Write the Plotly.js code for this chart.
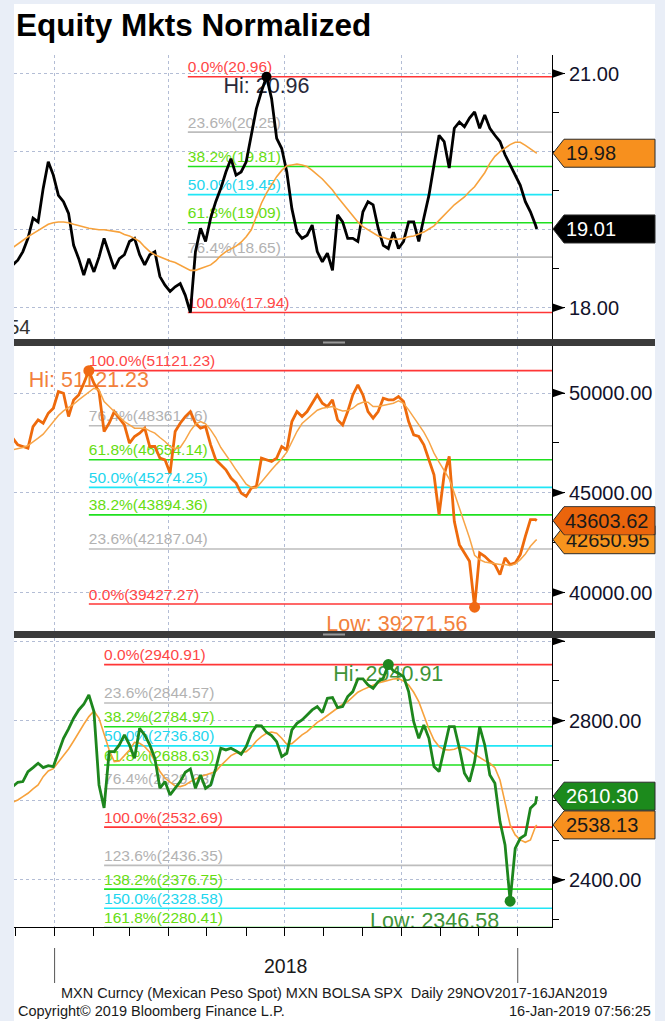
<!DOCTYPE html>
<html>
<head>
<meta charset="utf-8">
<script src="https://cdn.plot.ly/plotly-3.0.1.min.js"></script>
<style>
html,body{margin:0;padding:0;background:#e9eef7;}
#chart{width:665px;height:1021px;}
</style>
</head>
<body>
<div id="chart"></div>
<script>
// ---------- data ----------
const dates = [
'2017-11-29','2017-12-03','2017-12-07','2017-12-11','2017-12-15','2017-12-19','2017-12-23','2017-12-27','2017-12-31',
'2018-01-04','2018-01-08','2018-01-12','2018-01-16','2018-01-20','2018-01-24','2018-01-28',
'2018-02-01','2018-02-05','2018-02-09','2018-02-13','2018-02-17','2018-02-21','2018-02-25',
'2018-03-01','2018-03-05','2018-03-09','2018-03-13','2018-03-17','2018-03-21','2018-03-25','2018-03-29',
'2018-04-02','2018-04-06','2018-04-10','2018-04-14','2018-04-18','2018-04-22','2018-04-26','2018-04-30',
'2018-05-04','2018-05-08','2018-05-12','2018-05-16','2018-05-20','2018-05-24','2018-05-28',
'2018-06-01','2018-06-05','2018-06-09','2018-06-13','2018-06-17','2018-06-21','2018-06-25','2018-06-29',
'2018-07-03','2018-07-07','2018-07-11','2018-07-15','2018-07-19','2018-07-23','2018-07-27','2018-07-31',
'2018-08-04','2018-08-08','2018-08-12','2018-08-16','2018-08-20','2018-08-24','2018-08-28',
'2018-09-01','2018-09-05','2018-09-09','2018-09-13','2018-09-17','2018-09-21','2018-09-25','2018-09-29',
'2018-10-03','2018-10-07','2018-10-11','2018-10-15','2018-10-19','2018-10-23','2018-10-27','2018-10-31',
'2018-11-04','2018-11-08','2018-11-12','2018-11-16','2018-11-20','2018-11-24','2018-11-28',
'2018-12-02','2018-12-06','2018-12-10','2018-12-14','2018-12-18','2018-12-22','2018-12-26','2018-12-30',
'2019-01-03','2019-01-07','2019-01-11','2019-01-15','2019-01-16'
];

const mxn = [
18.55,18.61,18.72,18.89,19.15,19.10,19.53,19.87,19.70,19.44,
19.36,19.21,18.80,18.63,18.42,18.63,18.46,18.65,18.89,18.68,
18.50,18.63,18.68,18.85,18.89,18.68,18.55,18.68,18.72,18.40,
18.29,18.21,18.27,18.31,18.16,17.94,18.72,19.02,18.85,19.15,
19.36,19.53,19.74,19.91,19.70,19.74,19.87,20.21,20.55,20.77,
20.96,20.68,20.17,20.04,19.74,19.27,18.97,18.89,18.93,19.06,
18.72,18.59,18.70,18.48,19.19,19.10,18.89,18.89,18.85,19.23,
19.36,19.32,19.02,18.80,18.76,18.97,18.76,18.85,19.10,19.10,
18.85,19.15,19.44,19.83,20.21,20.13,19.79,20.30,20.38,20.32,
20.43,20.51,20.30,20.47,20.30,20.21,20.13,19.96,19.83,19.70,
19.57,19.36,19.23,19.06,19.01
];
const mxnMA = [
18.77,18.82,18.86,18.91,18.95,18.99,19.03,19.07,19.09,19.10,
19.10,19.09,19.07,19.05,19.03,19.02,19.01,19.00,19.00,18.99,
18.98,18.97,18.94,18.92,18.89,18.85,18.78,18.72,18.68,18.65,
18.62,18.60,18.58,18.55,18.51,18.48,18.48,18.50,18.52,18.55,
18.60,18.67,18.72,18.75,18.79,18.84,18.91,19.00,19.17,19.34,
19.47,19.57,19.68,19.76,19.82,19.83,19.84,19.83,19.81,19.76,
19.71,19.65,19.58,19.51,19.42,19.34,19.25,19.18,19.10,19.04,
19.00,18.95,18.92,18.90,18.88,18.88,18.88,18.89,18.91,18.92,
18.94,18.97,19.01,19.05,19.12,19.19,19.25,19.32,19.37,19.42,
19.49,19.55,19.64,19.73,19.85,19.94,20.00,20.05,20.09,20.12,
20.12,20.08,20.03,19.99,19.98
];

const bolsa = [
47738,47404,47321,47238,48321,48654,48488,48988,49238,50071,
49988,48821,49654,49904,50488,51121.23,50488,50071,48071,48488,
49071,48738,48404,47488,47821,47988,48238,47321,47321,46738,
46654,45988,48071,48488,48821,49071,48488,48238,48321,47404,
46654,46404,46154,45738,45488,44988,44821,45238,45321,46738,
46654,46571,46738,47321,47154,48571,49071,48821,49071,49488,
49904,49488,49321,49654,48654,48404,49071,49904,50404,49904,
49071,48738,49071,49738,49654,49654,49821,49571,48571,47904,
47821,47404,46654,45904,43904,45904,46821,43571,42404,41988,
41571,39271.56,41988,41821,41571,41404,40904,41738,41404,41488,
41904,42821,43654,43654,43603.62
];
const bolsaMA = [
47154,47204,47271,47371,47538,47738,47938,48238,48538,48871,
49104,49271,49438,49654,49854,50071,50238,50154,49571,49321,
49071,48821,48571,48404,48238,48238,48238,48104,47988,47771,
47571,47321,47204,47271,47654,48104,48438,48571,48454,48154,
47771,47271,46871,46538,46154,45771,45438,45271,45238,45538,
45871,46154,46438,46704,47038,47538,48071,48471,48704,48954,
49138,49238,49271,49321,49188,49104,49121,49238,49438,49538,
49538,49321,49321,49371,49438,49488,49604,49488,49154,48771,
48454,48038,47571,46988,46538,46154,45704,44988,44238,43571,
42738,41871,41654,41538,41488,41438,41404,41404,41354,41438,
41654,41938,42321,42604,42650.95
];

const spx = [
2634.4,2645.3,2647.0,2672.1,2682.1,2693.0,2682.1,2687.2,2684.6,2720.6,
2755.8,2779.3,2806.1,2827.0,2841.2,2864.7,2822.8,2638.6,2581.0,2722.3,
2722.3,2739.1,2764.2,2739.1,2705.6,2780.9,2764.2,2739.1,2705.6,2630.2,
2647.0,2613.5,2630.2,2647.0,2670.4,2678.8,2630.2,2663.7,2630.2,2638.6,
2680.4,2730.7,2726.5,2730.7,2724.0,2715.6,2734.9,2768.4,2787.6,2786.8,
2770.9,2762.5,2747.4,2709.8,2718.1,2776.8,2793.5,2801.9,2814.5,2827.0,
2835.4,2820.3,2856.3,2858.0,2832.9,2835.4,2860.5,2873.1,2904.9,2904.9,
2889.8,2881.5,2898.2,2906.6,2940.91,2925.0,2919.1,2910.8,2873.1,2797.7,
2755.8,2789.3,2755.8,2684.6,2672.1,2730.7,2785.1,2785.1,2730.7,2667.9,
2647.0,2697.2,2785.1,2739.1,2663.7,2642.8,2546.5,2487.8,2346.58,2479.4,
2504.6,2513.0,2580.0,2592.5,2610.30
];
const spxMA = [
2595.0,2600.9,2609.3,2617.6,2628.5,2638.6,2659.5,2673.8,2679.6,2695.5,
2712.3,2729.0,2749.1,2770.9,2791.0,2810.3,2824.5,2806.1,2764.2,2726.5,
2697.2,2698.9,2712.3,2726.5,2745.8,2743.2,2734.9,2720.6,2698.9,2672.1,
2655.3,2645.3,2636.1,2634.4,2638.6,2647.0,2653.6,2659.5,2663.7,2667.9,
2672.1,2687.2,2698.9,2712.3,2719.0,2720.6,2722.3,2733.2,2749.1,2760.0,
2768.4,2771.7,2768.4,2755.8,2740.8,2742.4,2754.2,2764.2,2772.6,2785.1,
2796.0,2803.6,2813.6,2822.8,2831.2,2841.2,2847.9,2860.5,2871.4,2878.1,
2884.0,2889.8,2894.9,2898.2,2901.5,2904.9,2905.7,2899.9,2889.8,2871.4,
2847.9,2814.5,2779.3,2751.6,2734.9,2727.3,2726.5,2728.2,2734.0,2732.4,
2725.7,2715.6,2707.3,2699.7,2693.0,2682.1,2651.1,2592.5,2538.1,2513.0,
2500.4,2494.5,2500.4,2533.9,2538.13
];

// Fibonacci retracement levels
const fib1Pct = ['0.0%','23.6%','38.2%','50.0%','61.8%','76.4%','100.0%'];
const fib1Val = [20.96,20.25,19.81,19.45,19.09,18.65,17.94];
const fib2Pct = ['100.0%','76.4%','61.8%','50.0%','38.2%','23.6%','0.0%'];
const fib2Val = [51121.23,48361.46,46654.14,45274.25,43894.36,42187.04,39427.27];
const fib3Pct = ['0.0%','23.6%','38.2%','50.0%','61.8%','76.4%','100.0%','123.6%','138.2%','150.0%','161.8%'];
const fib3Val = [2940.91,2844.57,2784.97,2736.80,2688.63,2629.03,2532.69,2436.35,2376.75,2328.58,2280.41];
const fibStart = ['2018-04-16','2018-01-28','2018-02-09'];

// Hi / Low points
const hi1 = {d:'2018-06-17', v:20.96};
const hi2 = {d:'2018-01-28', v:51121.23};
const lo2 = {d:'2018-11-28', v:39271.56};
const hi3 = {d:'2018-09-21', v:2940.91};
const lo3 = {d:'2018-12-26', v:2346.58};

// axis ticks
const y1Ticks = [18,19,20,21];      const y1Text = ['18.00','','','21.00'];   const y1Minor = [18.5,19.5,20.5];
const y2Ticks = [40000,45000,50000]; const y2Text = ['40000.00','45000.00','50000.00']; const y2Minor = [42500,47500];
const y3Ticks = [2400,2600,2800,3000]; const y3Text = ['2400.00','','2800.00','']; const y3Minor = [2300,2500,2700,2900];
const quarterTicks = ['2018-01-01','2018-04-01','2018-07-01','2018-10-01','2019-01-01'];
const monthTicks = ['2017-12-01','2018-01-01','2018-02-01','2018-03-01','2018-04-01','2018-05-01','2018-06-01',
  '2018-07-01','2018-08-01','2018-09-01','2018-10-01','2018-11-01','2018-12-01','2019-01-01'];
const arrowTicks = {y:[18,21], y2:[40000,45000,50000], y3:[2400,2800,3000]};

// ---------- styling ----------
const FONT = "'Liberation Sans', Arial, sans-serif";
const X_RANGE = ['2017-11-30','2019-01-28'];
const GRID = '#b3bdd5';

function fibColor(p){
  if(p==='0.0%'||p==='100.0%') return {line:'#ff3636', text:'#ff4646'};
  if(p==='23.6%'||p==='76.4%'||p==='123.6%') return {line:'#bdbdbd', text:'#b2b2b2'};
  if(p==='50.0%'||p==='150.0%') return {line:'#20e6f6', text:'#22d6ee'};
  return {line:'#1fe01f', text:'#66dd11'};
}
function fibShapes(yref, start, pcts, vals){
  return pcts.map((p,i)=>({
    type:'line', xref:'x', yref:yref, x0:start, x1:X_RANGE[1], y0:vals[i], y1:vals[i],
    layer:'between', line:{color:fibColor(p).line, width:1.6},
    label:{text:p+'('+vals[i].toFixed(2)+')', textposition:'start', xanchor:'left', yanchor:'bottom',
      padding:3, font:{family:FONT, size:15.5, color:fibColor(p).text}}
  }));
}
function arrowShape(yref, v){
  return {type:'path', xref:'paper', yref:yref, xsizemode:'pixel', ysizemode:'pixel', xanchor:1, yanchor:v,
    path:'M0,-4.5 L13,0 L0,4.5 Z', fillcolor:'#000', line:{width:0}, layer:'above'};
}
function badgeShape(yref, v, fill){
  return {type:'path', xref:'paper', yref:yref, xsizemode:'pixel', ysizemode:'pixel', xanchor:1, yanchor:v,
    path:'M1,0 L12,14 L103,14 L103,-14 L12,-14 Z', fillcolor:fill, line:{color:'#2a2a2a', width:1}, layer:'above'};
}
function badgeText(yref, v, color, bg){
  const a = {xref:'paper', x:1, xanchor:'left', xshift:12, yref:yref, y:v, yanchor:'middle',
    text:v.toFixed(2), showarrow:false, align:'left', font:{family:FONT, size:20, color:color}};
  if(bg){ a.bgcolor = bg; a.width = 88; a.height = 26; a.borderpad = 0; }
  return a;
}
function last(a){ return a[a.length-1]; }

// paper helpers (plot area spans y 55..927 px, x 14..552 px)
const PT = 55, PB = 927, PH = PB-PT, PL = 14, PW = 538;
const py = p => (PB - p)/PH;
const px = p => (p - PL)/PW;

const yBase = {
  side:'right', anchor:'x', showline:true, linecolor:'#000', linewidth:1,
  ticks:'outside', ticklen:12, tickcolor:'#000', tickwidth:1,
  tickfont:{family:FONT, size:20, color:'#12122a'},
  showgrid:true, gridcolor:GRID, griddash:'3px,3px', gridwidth:1, zeroline:false, fixedrange:true
};

// ---------- traces ----------
const traces = [];
// Panel 1
traces.push({x:[hi1.d], y:[hi1.v], yaxis:'y', mode:'text', text:['Hi: '+hi1.v.toFixed(2)], textposition:'bottom center',
  textfont:{family:FONT, size:21.5, color:'#2a2a3a'}, hoverinfo:'skip'});
traces.push({x:dates, y:mxn, yaxis:'y', mode:'lines', line:{color:'#000', width:2.8}, hoverinfo:'skip'});
traces.push({x:dates, y:mxnMA, yaxis:'y', mode:'lines', line:{color:'#f7a23c', width:1.6}, hoverinfo:'skip'});
traces.push({x:[hi1.d], y:[hi1.v], yaxis:'y', mode:'markers', marker:{color:'#000', size:10}, hoverinfo:'skip'});
traces.push({x:['2017-12-13'], y:[17.73], yaxis:'y', mode:'text', text:['54'], textposition:'middle left',
  textfont:{family:FONT, size:20, color:'#333'}, hoverinfo:'skip'});
// Panel 2
traces.push({x:[hi2.d], y:[hi2.v], yaxis:'y2', mode:'text',
  text:['Hi: '+hi2.v.toFixed(2)], textposition:'bottom center',
  textfont:{family:FONT, size:21.5, color:'#f2813c'}, hoverinfo:'skip'});
traces.push({x:[lo2.d], y:[lo2.v], yaxis:'y2', mode:'markers+text', marker:{size:10, opacity:0},
  text:['Low: '+lo2.v.toFixed(2)], textposition:'bottom left',
  textfont:{family:FONT, size:21.5, color:'#f2813c'}, hoverinfo:'skip'});
traces.push({x:dates, y:bolsa, yaxis:'y2', mode:'lines', line:{color:'#ee6a0c', width:2.8}, hoverinfo:'skip'});
traces.push({x:dates, y:bolsaMA, yaxis:'y2', mode:'lines', line:{color:'#f7a548', width:1.5}, hoverinfo:'skip'});
traces.push({x:[hi2.d, lo2.d], y:[hi2.v, lo2.v], yaxis:'y2', mode:'markers', marker:{color:'#f06a14', size:11}, hoverinfo:'skip'});
// Panel 3
traces.push({x:[hi3.d], y:[hi3.v], yaxis:'y3', mode:'text',
  text:['Hi: '+hi3.v.toFixed(2)], textposition:'bottom center',
  textfont:{family:FONT, size:21.5, color:'#3f9438'}, hoverinfo:'skip'});
traces.push({x:[lo3.d], y:[lo3.v], yaxis:'y3', mode:'markers+text', marker:{size:16, opacity:0},
  text:['Low: '+lo3.v.toFixed(2)], textposition:'bottom left',
  textfont:{family:FONT, size:21.5, color:'#3f9438'}, hoverinfo:'skip'});
traces.push({x:dates, y:spxMA, yaxis:'y3', mode:'lines', line:{color:'#f7a23c', width:1.6}, hoverinfo:'skip'});
traces.push({x:dates, y:spx, yaxis:'y3', mode:'lines', line:{color:'#1d861d', width:2.8}, hoverinfo:'skip'});
traces.push({x:[hi3.d, lo3.d], y:[hi3.v, lo3.v], yaxis:'y3', mode:'markers', marker:{color:'#1f861f', size:11}, hoverinfo:'skip'});

// ---------- shapes ----------
let shapes = [];
shapes.push({type:'rect', xref:'paper', yref:'paper', x0:0, x1:px(655), y0:py(1021), y1:py(4),
  fillcolor:'#ffffff', line:{width:0}, layer:'below'});
shapes = shapes.concat(fibShapes('y', fibStart[0], fib1Pct, fib1Val));
shapes = shapes.concat(fibShapes('y2', fibStart[1], fib2Pct, fib2Val));
shapes = shapes.concat(fibShapes('y3', fibStart[2], fib3Pct, fib3Val));
arrowTicks.y.forEach(v=>shapes.push(arrowShape('y', v)));
arrowTicks.y2.forEach(v=>shapes.push(arrowShape('y2', v)));
arrowTicks.y3.forEach(v=>shapes.push(arrowShape('y3', v)));
// value badges
shapes.push(badgeShape('y', last(mxnMA), '#f7901e'));
shapes.push(badgeShape('y', last(mxn), '#000000'));
shapes.push(badgeShape('y2', last(bolsaMA), '#f7941d'));
shapes.push(badgeShape('y2', last(bolsa), '#ea650c'));
shapes.push(badgeShape('y3', last(spxMA), '#f7901e'));
shapes.push(badgeShape('y3', last(spx), '#1c8a1c'));
// panel separators
[[339,346],[631,638]].forEach(s=>{
  shapes.push({type:'rect', xref:'paper', yref:'paper', x0:0, x1:px(655), y0:py(s[1]), y1:py(s[0]),
    fillcolor:'#3b3b3b', line:{width:0}, layer:'above'});
  shapes.push({type:'rect', xref:'paper', yref:'paper', x0:px(323), x1:px(345), y0:py(s[0]+4.5), y1:py(s[0]+2.5),
    fillcolor:'#9a9a9a', line:{width:0}, layer:'above'});
});
// year boundaries below the axis
['2018-01-01','2019-01-01'].forEach(d=>{
  shapes.push({type:'line', xref:'x', yref:'paper', x0:d, x1:d, y0:py(983), y1:py(948), line:{color:'#555', width:1}});
});

// ---------- annotations ----------
const annotations = [
  badgeText('y', last(mxnMA), '#1a1a1a'),
  badgeText('y', last(mxn), '#ffffff'),
  badgeText('y2', last(bolsaMA), '#1a1a1a'),
  badgeText('y2', last(bolsa), '#1a1a1a', '#ea650c'),
  badgeText('y3', last(spxMA), '#1a1a1a'),
  badgeText('y3', last(spx), '#ffffff'),
  {xref:'x', x:'2018-07-02', yref:'paper', y:py(966), yanchor:'middle', text:'2018', showarrow:false,
    font:{family:FONT, size:19.5, color:'#1a1a1a'}},
  {xref:'paper', x:px(334), yref:'paper', y:py(993), xanchor:'center', yanchor:'middle',
    text:'MXN Curncy (Mexican Peso Spot) MXN BOLSA SPX\u00a0\u00a0Daily 29NOV2017-16JAN2019',
    showarrow:false, font:{family:FONT, size:14.5, color:'#1a1a1a'}},
  {xref:'paper', x:px(16), yref:'paper', y:py(1011), xanchor:'left', yanchor:'middle',
    text:'Copyright\u00a9 2019 Bloomberg Finance L.P.',
    showarrow:false, font:{family:FONT, size:14.5, color:'#1a1a1a'}},
  {xref:'paper', x:px(653), yref:'paper', y:py(1011), xanchor:'right', yanchor:'middle', text:'16-Jan-2019 07:56:25',
    showarrow:false, font:{family:FONT, size:14.5, color:'#1a1a1a'}}
];

const layout = {
  width:665, height:1021,
  margin:{l:PL, r:665-552, t:PT, b:1021-PB, pad:0},
  paper_bgcolor:'#e9eef7', plot_bgcolor:'#ffffff',
  showlegend:false, hovermode:false,
  font:{family:FONT, color:'#111'},
  title:{text:'<b>Equity Mkts Normalized</b>', x:16/665, xanchor:'left', xref:'container',
    y:1-25/1021, yanchor:'middle', yref:'container', font:{family:FONT, size:31.5, color:'#000'}},
  xaxis:{type:'date', range:X_RANGE, anchor:'y3', domain:[0,1], showline:true, linecolor:'#000', linewidth:1,
    ticks:'outside', ticklen:8, tickcolor:'#000', tickvals:quarterTicks, showticklabels:false,
    showgrid:true, gridcolor:GRID, griddash:'3px,3px', gridwidth:1, zeroline:false, fixedrange:true,
    minor:{tickmode:'array', tickvals:monthTicks, ticks:'outside', ticklen:8, tickcolor:'#000', showgrid:false}},
  yaxis:Object.assign({}, yBase, {domain:[py(339), 1], range:[17.601, 21.238], tickvals:y1Ticks, ticktext:y1Text,
    minor:{tickmode:'array', tickvals:y1Minor, ticks:'outside', ticklen:6, tickcolor:'#000', showgrid:false}}),
  yaxis2:Object.assign({}, yBase, {domain:[py(631), py(346)], range:[38077, 52356], tickvals:y2Ticks, ticktext:y2Text,
    minor:{tickmode:'array', tickvals:y2Minor, ticks:'outside', ticklen:6, tickcolor:'#000', showgrid:false}}),
  yaxis3:Object.assign({}, yBase, {domain:[0, py(638)], range:[2281.6, 3007.8], tickvals:y3Ticks, ticktext:y3Text,
    minor:{tickmode:'array', tickvals:y3Minor, ticks:'outside', ticklen:6, tickcolor:'#000', showgrid:false}}),
  shapes:shapes,
  annotations:annotations
};

Plotly.newPlot('chart', traces, layout, {displayModeBar:false, staticPlot:true});
</script>
</body>
</html>
